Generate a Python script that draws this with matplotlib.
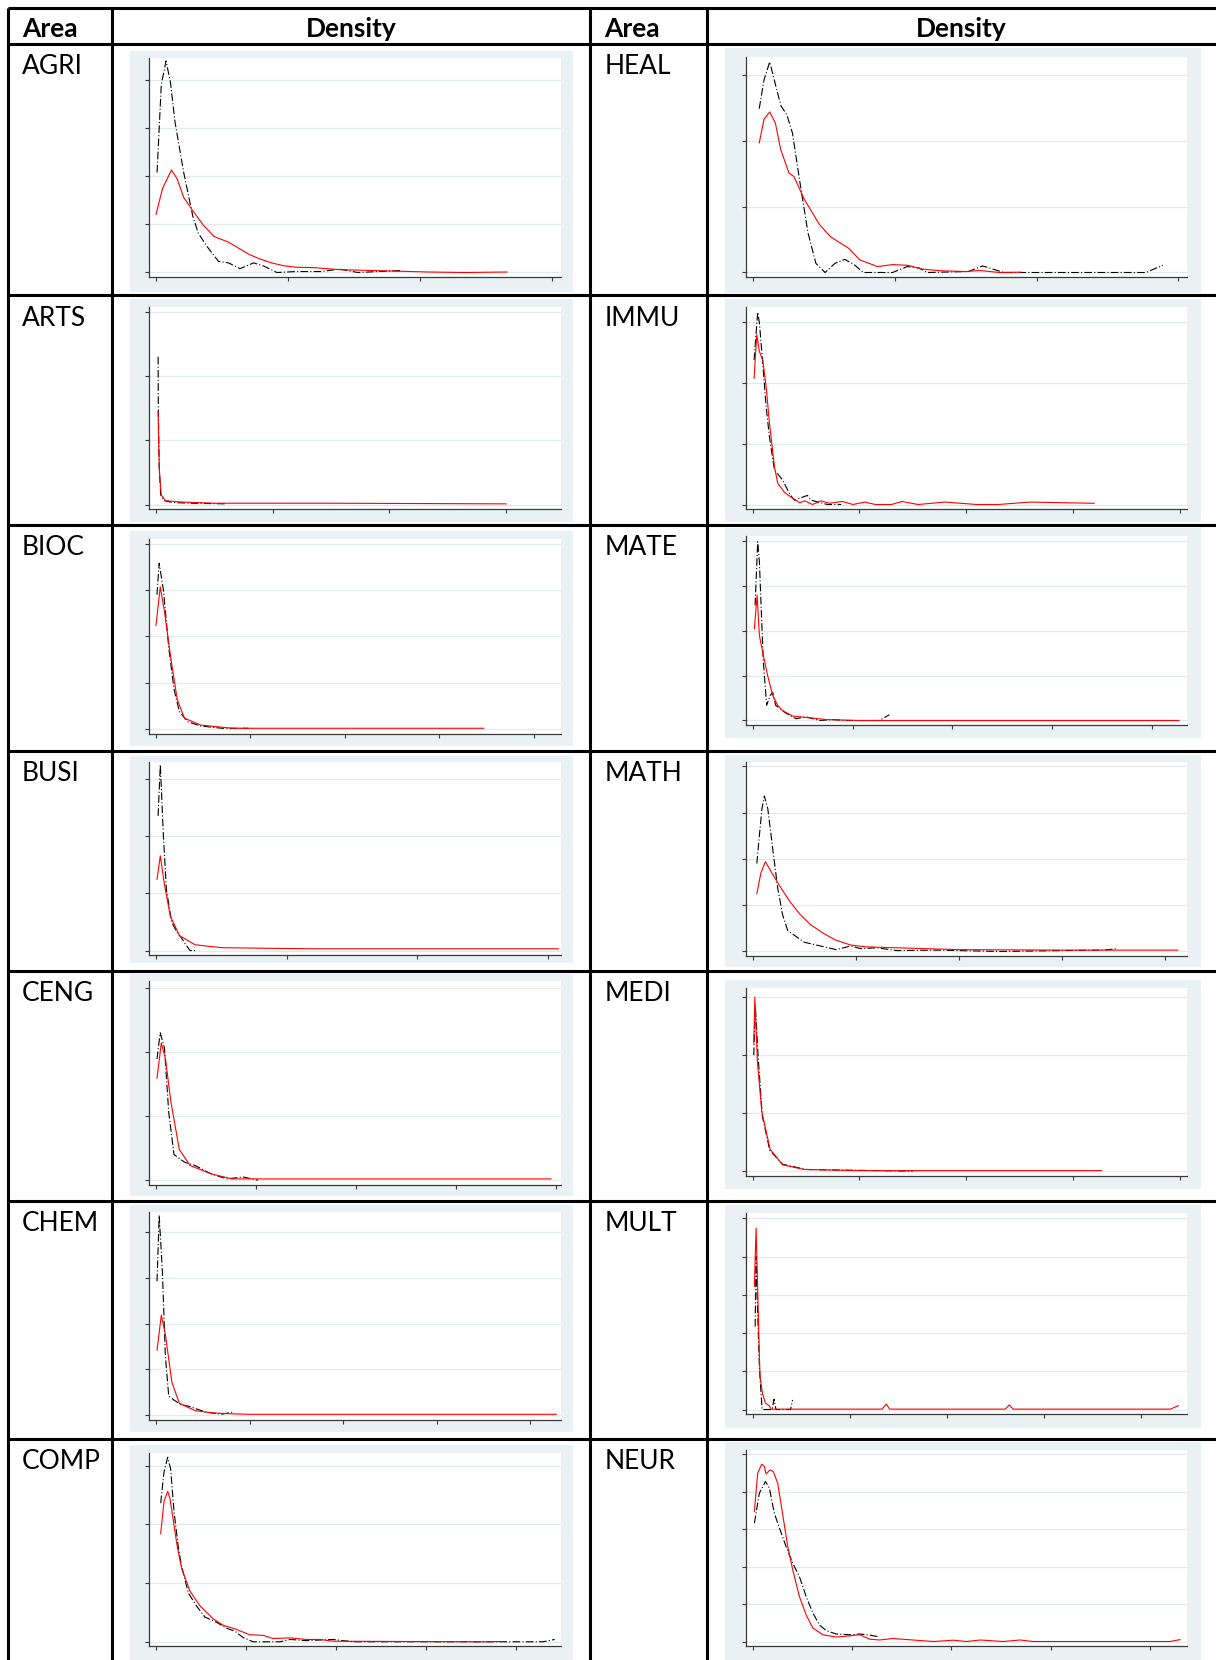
import matplotlib
matplotlib.use('Agg')
import matplotlib.pyplot as plt
from matplotlib.patches import Rectangle
from matplotlib.lines import Line2D

# ---------------- data (x in x-tick units, y in y-tick units) ----------------
header = ['Area', 'Density', 'Area', 'Density']
left_areas = ['AGRI', 'ARTS', 'BIOC', 'BUSI', 'CENG', 'CHEM', 'COMP']
right_areas = ['HEAL', 'IMMU', 'MATE', 'MATH', 'MEDI', 'MULT', 'NEUR']

n_xticks = {'AGRI': 4, 'ARTS': 4, 'BIOC': 5, 'BUSI': 4, 'CENG': 5, 'CHEM': 5, 'COMP': 5,
            'HEAL': 4, 'IMMU': 5, 'MATE': 5, 'MATH': 5, 'MEDI': 5, 'MULT': 5, 'NEUR': 5}
n_yticks = {'AGRI': 5, 'ARTS': 4, 'BIOC': 5, 'BUSI': 4, 'CENG': 4, 'CHEM': 5, 'COMP': 4,
            'HEAL': 4, 'IMMU': 4, 'MATE': 5, 'MATH': 5, 'MEDI': 4, 'MULT': 6, 'NEUR': 6}
x_right = {'AGRI': 3.07, 'ARTS': 3.47, 'BIOC': 4.29, 'BUSI': 3.1, 'CENG': 4.05, 'CHEM': 4.33, 'COMP': 4.5,
           'HEAL': 3.06, 'IMMU': 4.07, 'MATE': 4.35, 'MATH': 4.21, 'MEDI': 4.07, 'MULT': 4.47, 'NEUR': 4.37}
y_top = {'AGRI': 4.46, 'ARTS': 3.08, 'BIOC': 4.1, 'BUSI': 3.3, 'CENG': 3.1, 'CHEM': 4.44, 'COMP': 3.22,
         'HEAL': 3.28, 'IMMU': 3.26, 'MATE': 4.12, 'MATH': 4.1, 'MEDI': 3.16, 'MULT': 5.13, 'NEUR': 5.11}

agri_red_x = [0.0, 0.05, 0.117, 0.16, 0.21, 0.28, 0.36, 0.44, 0.55, 0.63, 0.71, 0.79, 0.875, 0.97, 1.065,
              1.2, 1.39, 1.66, 2.07, 2.34, 2.66]
agri_red_y = [1.21, 1.75, 2.13, 1.95, 1.56, 1.28, 0.98, 0.75, 0.63, 0.5, 0.37, 0.28, 0.2, 0.14, 0.11,
              0.1, 0.06, 0.04, 0.01, 0.0, 0.01]
agri_blk_x = [0.008, 0.04, 0.076, 0.11, 0.144, 0.21, 0.279, 0.32, 0.387, 0.474, 0.55, 0.637, 0.74, 0.82,
              0.916, 1.065, 1.25, 1.39, 1.53, 1.69, 1.85]
agri_blk_y = [2.08, 3.9, 4.40, 3.95, 3.13, 2.08, 1.17, 0.82, 0.54, 0.23, 0.2, 0.08, 0.2, 0.13,
              0.0, 0.02, 0.02, 0.07, 0.0, 0.02, 0.04]

arts_red_x = [0.018, 0.022, 0.03, 0.045, 0.08, 0.2, 0.5, 1.5, 3.0]
arts_red_y = [1.45, 1.0, 0.5, 0.15, 0.06, 0.04, 0.02, 0.02, 0.01]
arts_blk_x = [0.018, 0.02, 0.027, 0.04, 0.07, 0.15, 0.3, 0.6]
arts_blk_y = [2.3, 1.5, 0.6, 0.15, 0.06, 0.03, 0.02, 0.01]

bioc_red_x = [0.0, 0.045, 0.09, 0.157, 0.225, 0.3, 0.47, 0.81, 3.47]
bioc_red_y = [2.24, 3.07, 2.53, 1.53, 0.64, 0.24, 0.09, 0.02, 0.02]
bioc_blk_x = [0.01, 0.034, 0.08, 0.135, 0.19, 0.247, 0.337, 0.47, 0.7, 0.98]
bioc_blk_y = [2.9, 3.58, 2.98, 1.76, 0.87, 0.38, 0.16, 0.07, 0.02, 0.02]

busi_red_x = [0.008, 0.033, 0.065, 0.11, 0.18, 0.3, 0.5, 0.8, 1.2, 3.08]
busi_red_y = [1.25, 1.66, 1.15, 0.6, 0.26, 0.1, 0.05, 0.04, 0.03, 0.03]
busi_blk_x = [0.016, 0.033, 0.057, 0.08, 0.12, 0.16, 0.195, 0.22, 0.26, 0.3]
busi_blk_y = [2.36, 3.26, 1.99, 1.06, 0.5, 0.32, 0.22, 0.13, 0.0, 0.0]

ceng_red_x = [0.01, 0.053, 0.095, 0.148, 0.233, 0.34, 0.55, 0.76, 3.95]
ceng_red_y = [1.59, 2.14, 1.89, 1.23, 0.48, 0.23, 0.1, 0.02, 0.02]
ceng_blk_x = [0.01, 0.042, 0.085, 0.127, 0.18, 0.286, 0.39, 0.55, 0.71, 0.87, 1.02]
ceng_blk_y = [1.89, 2.3, 2.06, 1.06, 0.4, 0.28, 0.23, 0.1, 0.02, 0.05, 0.0]

chem_red_x = [0.011, 0.057, 0.1, 0.17, 0.25, 0.42, 0.6, 0.82, 1.0, 4.28]
chem_red_y = [1.42, 2.19, 1.77, 0.72, 0.26, 0.1, 0.05, 0.03, 0.02, 0.02]
chem_blk_x = [0.011, 0.034, 0.068, 0.1, 0.136, 0.193, 0.27, 0.36, 0.53, 0.7, 0.82]
chem_blk_y = [2.93, 4.37, 3.16, 1.3, 0.42, 0.33, 0.23, 0.19, 0.07, 0.02, 0.07]

comp_red_x = [0.052, 0.089, 0.13, 0.155, 0.193, 0.237, 0.285, 0.378, 0.49, 0.637, 0.748, 0.878, 1.04,
              1.19, 1.3, 1.49, 1.67, 1.82, 1.97, 3.64, 3.82]
comp_red_y = [1.84, 2.39, 2.56, 2.44, 2.06, 1.61, 1.25, 0.86, 0.61, 0.39, 0.28, 0.22, 0.12,
              0.11, 0.056, 0.067, 0.04, 0.04, 0.01, 0.0, 0.005]
comp_blk_x = [0.052, 0.089, 0.13, 0.163, 0.2, 0.248, 0.285, 0.36, 0.45, 0.544, 0.674, 0.785, 0.878,
              0.97, 1.08, 1.38, 1.49, 1.67, 1.97, 2.19, 4.3, 4.43]
comp_blk_y = [2.36, 2.89, 3.14, 2.94, 2.22, 1.61, 1.28, 0.83, 0.61, 0.42, 0.33, 0.23, 0.18,
              0.07, 0.0, 0.0, 0.04, 0.02, 0.04, 0.0, 0.0, 0.04]

heal_red_x = [0.046, 0.08, 0.12, 0.16, 0.197, 0.256, 0.29, 0.364, 0.47, 0.55, 0.675, 0.756, 0.88, 0.985,
              1.09, 1.2, 1.34, 1.5, 1.6, 1.74, 1.89]
heal_red_y = [1.97, 2.33, 2.44, 2.27, 1.87, 1.51, 1.46, 1.11, 0.73, 0.54, 0.37, 0.19, 0.09, 0.12,
              0.11, 0.05, 0.025, 0.015, 0.03, 0.0, 0.005]
heal_blk_x = [0.046, 0.08, 0.12, 0.175, 0.2, 0.24, 0.28, 0.337, 0.39, 0.445, 0.51, 0.58, 0.648, 0.715,
              0.78, 0.985, 1.09, 1.17, 1.23, 1.52, 1.62, 1.71, 1.77, 2.77, 2.89]
heal_blk_y = [2.49, 2.93, 3.2, 2.73, 2.53, 2.4, 2.12, 1.31, 0.6, 0.14, 0.0, 0.14, 0.2, 0.12,
              0.0, 0.0, 0.09, 0.07, 0.0, 0.015, 0.1, 0.04, 0.0, 0.0, 0.11]

immu_red_x = [0.013, 0.038, 0.063, 0.094, 0.126, 0.157, 0.204, 0.235, 0.298, 0.36, 0.407, 0.44, 0.49,
              0.56, 0.64, 0.72, 0.84, 0.94, 1.05, 1.15, 1.3, 1.4, 1.55, 1.8, 2.1, 2.3, 2.6, 3.2]
immu_red_y = [2.08, 2.8, 2.52, 2.38, 1.94, 1.34, 0.62, 0.35, 0.2, 0.12, 0.07, 0.03, 0.06,
              0.0, 0.06, 0.02, 0.05, 0.0, 0.04, 0.0, 0.0, 0.05, 0.0, 0.04, 0.0, 0.0, 0.04, 0.02]
immu_blk_x = [0.013, 0.047, 0.063, 0.094, 0.126, 0.157, 0.204, 0.282, 0.344, 0.391, 0.466, 0.513,
              0.548, 0.7, 0.83]
immu_blk_y = [2.38, 3.17, 2.99, 2.33, 1.61, 1.11, 0.57, 0.4, 0.18, 0.07, 0.12, 0.15,
              0.07, 0.0, 0.0]

mate_red_x = [0.017, 0.044, 0.067, 0.107, 0.15, 0.2, 0.25, 0.3, 0.4, 0.57, 0.74, 1.07, 4.27]
mate_red_y = [2.05, 2.8, 1.9, 1.45, 1.0, 0.56, 0.34, 0.22, 0.1, 0.06, 0.02, 0.0, 0.0]
mate_blk_x = [0.024, 0.05, 0.067, 0.084, 0.107, 0.14, 0.175, 0.2, 0.23, 0.335, 0.436, 0.536, 0.67,
              0.8, 0.94, 1.27, 1.37]
mate_blk_y = [2.57, 3.99, 3.54, 2.57, 1.3, 0.34, 0.56, 0.63, 0.34, 0.16, 0.04, 0.08, 0.0,
              0.02, 0.0, 0.0, 0.13]

math_red_x = [0.04, 0.08, 0.123, 0.18, 0.26, 0.36, 0.46, 0.56, 0.68, 0.8, 0.95, 1.1, 1.4, 2.0, 3.0, 4.12]
math_red_y = [1.25, 1.7, 1.94, 1.72, 1.42, 1.08, 0.8, 0.58, 0.4, 0.25, 0.14, 0.1, 0.08, 0.04, 0.03, 0.03]
math_blk_x = [0.04, 0.065, 0.09, 0.113, 0.146, 0.194, 0.243, 0.29, 0.34, 0.5, 0.81, 0.95, 1.05,
              1.2, 1.4, 1.8, 2.4, 3.0, 3.4, 3.53]
math_blk_y = [1.9, 2.51, 3.09, 3.36, 3.09, 2.22, 1.36, 0.79, 0.45, 0.2, 0.04, 0.12, 0.06,
              0.08, 0.02, 0.03, 0.0, 0.02, 0.03, 0.06]

medi_red_x = [0.01, 0.02, 0.044, 0.085, 0.163, 0.28, 0.48, 1.0, 3.27]
medi_red_y = [2.2, 3.0, 1.89, 1.03, 0.38, 0.11, 0.03, 0.01, 0.01]
medi_blk_x = [0.01, 0.025, 0.05, 0.09, 0.16, 0.28, 0.5, 0.8, 1.2, 1.5]
medi_blk_y = [2.0, 2.85, 2.0, 0.95, 0.36, 0.12, 0.03, 0.02, 0.01, 0.0]

mult_red_x = [0.017, 0.035, 0.07, 0.076, 0.1, 0.13, 0.17, 0.19, 1.33, 1.374, 1.41, 2.6, 2.64, 2.68,
              4.3, 4.38]
mult_red_y = [3.22, 4.74, 1.3, 0.86, 0.43, 0.17, 0.1, 0.01, 0.01, 0.14, 0.01, 0.01, 0.12, 0.01,
              0.01, 0.1]
mult_blk_x = [0.025, 0.035, 0.05, 0.07, 0.097, 0.2, 0.22, 0.24, 0.39, 0.41]
mult_blk_y = [2.17, 4.0, 2.6, 1.04, 0.0, 0.0, 0.27, 0.0, 0.0, 0.25]

neur_red_x = [0.017, 0.05, 0.09, 0.118, 0.134, 0.175, 0.208, 0.252, 0.3, 0.353, 0.403, 0.47, 0.538,
              0.605, 0.706, 0.84, 0.975, 1.076, 1.18, 1.277, 1.41, 1.61, 1.82, 2.02, 2.15, 2.29,
              2.52, 2.69, 2.82, 4.2, 4.3]
neur_red_y = [3.47, 4.49, 4.73, 4.67, 4.47, 4.58, 4.53, 4.22, 3.42, 2.53, 1.91, 1.2, 0.71,
              0.36, 0.18, 0.12, 0.15, 0.18, 0.06, 0.04, 0.08, 0.04, 0.0, 0.035, 0.0, 0.04,
              0.0, 0.04, 0.0, 0.0, 0.05]
neur_blk_x = [0.017, 0.067, 0.128, 0.168, 0.218, 0.27, 0.336, 0.403, 0.47, 0.538, 0.605, 0.672,
              0.74, 0.84, 0.975, 1.076, 1.18, 1.26]
neur_blk_y = [3.16, 3.96, 4.27, 4.09, 3.42, 3.02, 2.53, 2.09, 1.73, 1.2, 0.76, 0.44,
              0.29, 0.2, 0.18, 0.2, 0.17, 0.13]

curves = {
    'AGRI': (agri_red_x, agri_red_y, agri_blk_x, agri_blk_y),
    'ARTS': (arts_red_x, arts_red_y, arts_blk_x, arts_blk_y),
    'BIOC': (bioc_red_x, bioc_red_y, bioc_blk_x, bioc_blk_y),
    'BUSI': (busi_red_x, busi_red_y, busi_blk_x, busi_blk_y),
    'CENG': (ceng_red_x, ceng_red_y, ceng_blk_x, ceng_blk_y),
    'CHEM': (chem_red_x, chem_red_y, chem_blk_x, chem_blk_y),
    'COMP': (comp_red_x, comp_red_y, comp_blk_x, comp_blk_y),
    'HEAL': (heal_red_x, heal_red_y, heal_blk_x, heal_blk_y),
    'IMMU': (immu_red_x, immu_red_y, immu_blk_x, immu_blk_y),
    'MATE': (mate_red_x, mate_red_y, mate_blk_x, mate_blk_y),
    'MATH': (math_red_x, math_red_y, math_blk_x, math_blk_y),
    'MEDI': (medi_red_x, medi_red_y, medi_blk_x, medi_blk_y),
    'MULT': (mult_red_x, mult_red_y, mult_blk_x, mult_blk_y),
    'NEUR': (neur_red_x, neur_red_y, neur_blk_x, neur_blk_y),
}

# ---------------- layout (pixels) ----------------
W, H = 1216, 1660
col_lines = [8, 112, 590, 707]
row_lines = [8, 44.5, 295.5, 525, 751, 971, 1201, 1439]
# (grey top, grey bottom, white top, x-axis y) per cell
left_boxes = [(51, 292, 58, 277), (299, 522, 306.7, 509), (531.5, 746, 539, 733.7),
              (756, 963, 762.3, 955), (974, 1196, 981.4, 1184.7), (1205, 1432, 1212.2, 1419.7),
              (1445, 1700, 1452.6, 1646.3)]
right_boxes = [(48, 292.7, 56.7, 277), (299, 522.3, 306.7, 509), (528.3, 738, 536, 725),
               (754.7, 966.6, 761.7, 956), (980.4, 1189, 987.8, 1175.7), (1205, 1427.7, 1213.3, 1414),
               (1441.7, 1700, 1450, 1646)]
left_x = (130, 573, 149, 561)     # grey left, grey right, axis x, white right
right_x = (725, 1201, 745.7, 1187)

panel_bg = '#eaf1f3'
grid_c = '#e2eaed'
axis_c = '#3a3a3a'

plt.rcParams['lines.scale_dashes'] = False
fig = plt.figure(figsize=(W / 100, H / 100), dpi=100)


def fx(px):
    return px / W


def fy(py):
    return 1 - py / H


def draw_panel(area, xs, box):
    gl, gr, axl, wr = xs
    gt, gb, wt, axb = box
    fig.patches.append(Rectangle((fx(gl), fy(gb)), fx(gr - gl), (gb - gt) / H,
                                 transform=fig.transFigure, facecolor=panel_bg,
                                 edgecolor='none', zorder=-5))
    ax = fig.add_axes([fx(axl), fy(axb), fx(wr - axl), (axb - wt) / H])
    ax.set_zorder(1)
    ax.set_facecolor('white')
    wpx, hpx = wr - axl, axb - wt
    spx = (wpx - 7) / x_right[area]
    spy = (hpx - 4.5) / y_top[area]
    ax.set_xlim(-7 / spx, x_right[area])
    ax.set_ylim(-4.5 / spy, y_top[area])
    ax.set_xticks(range(n_xticks[area]))
    ax.set_yticks(range(n_yticks[area]))
    ax.tick_params(length=3, width=0.8, color=axis_c, labelleft=False, labelbottom=False)
    ax.grid(axis='y', color=grid_c, lw=0.9, zorder=0)
    ax.set_axisbelow(True)
    for s in ['top', 'right']:
        ax.spines[s].set_visible(False)
    for s in ['left', 'bottom']:
        ax.spines[s].set_color(axis_c)
        ax.spines[s].set_linewidth(0.9)
    rx, ry, bx, by = curves[area]
    ax.plot(bx, by, color='black', lw=0.8, linestyle=(0, (5.5, 1.6, 0.8, 1.6)), zorder=3)
    ax.plot(rx, ry, color='#ff0000', lw=0.8, zorder=4)


for i, area in enumerate(left_areas):
    draw_panel(area, left_x, left_boxes[i])
for i, area in enumerate(right_areas):
    draw_panel(area, right_x, right_boxes[i])

# table lines
lw_tab = 2.2
for y in row_lines:
    fig.add_artist(Line2D([fx(col_lines[0]), 1], [fy(y), fy(y)], color='black', lw=lw_tab,
                          transform=fig.transFigure, solid_capstyle='butt', zorder=5))
for x in col_lines:
    fig.add_artist(Line2D([fx(x), fx(x)], [fy(row_lines[0]), 0], color='black', lw=lw_tab,
                          transform=fig.transFigure, solid_capstyle='butt', zorder=5))

# text
font = 'Lato'
fs = 19
fig.text(fx(col_lines[0] + 14), fy(37), header[0], fontsize=fs, fontweight='bold', family=font,
         va='baseline', ha='left')
fig.text(fx((col_lines[1] + col_lines[2]) / 2), fy(37), header[1], fontsize=fs, fontweight='bold',
         family=font, va='baseline', ha='center')
fig.text(fx(col_lines[2] + 14), fy(37), header[2], fontsize=fs, fontweight='bold', family=font,
         va='baseline', ha='left')
fig.text(fx((col_lines[3] + W) / 2), fy(37), header[3], fontsize=fs, fontweight='bold',
         family=font, va='baseline', ha='center')
for i in range(7):
    yb = row_lines[i + 1] + 30
    fig.text(fx(col_lines[0] + 14), fy(yb), left_areas[i], fontsize=fs, family=font, va='baseline')
    fig.text(fx(col_lines[2] + 15), fy(yb), right_areas[i], fontsize=fs, family=font, va='baseline')

fig.savefig('out.png', dpi=100)
